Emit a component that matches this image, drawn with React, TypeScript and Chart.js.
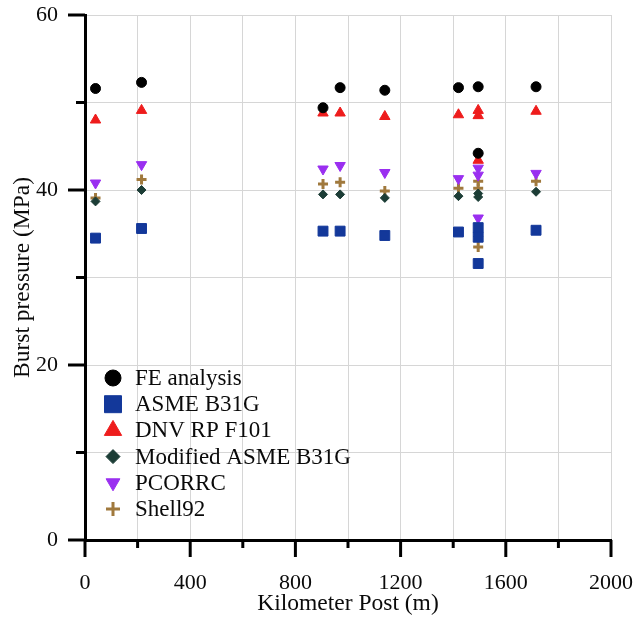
import React, { useEffect, useRef } from 'react';
import { Chart, registerables } from 'chart.js';
import { drawPoint } from 'chart.js/helpers';

Chart.register(...registerables);

// Kilometer post (m) and burst pressure (MPa) per method
const feX = [40, 215, 905, 970, 1140, 1420, 1495, 1495, 1715];
const feY = [51.6, 52.3, 49.4, 51.7, 51.4, 51.7, 51.8, 44.2, 51.8];

const asmeX = [40, 215, 905, 970, 1140, 1420, 1495, 1495, 1495, 1715];
const asmeY = [34.5, 35.6, 35.3, 35.3, 34.8, 35.2, 35.7, 34.6, 31.6, 35.4];

const dnvX = [40, 215, 905, 970, 1140, 1420, 1495, 1495, 1495, 1715];
const dnvY = [48.0, 49.1, 48.8, 48.8, 48.4, 48.6, 49.1, 48.5, 43.4, 49.0];

const modX = [40, 215, 905, 970, 1140, 1420, 1495, 1495, 1495, 1715];
const modY = [38.7, 40.0, 39.5, 39.5, 39.1, 39.3, 39.6, 39.2, 34.7, 39.8];

const pcX = [40, 215, 905, 970, 1140, 1420, 1495, 1495, 1495, 1715];
const pcY = [40.8, 42.9, 42.4, 42.8, 42.0, 41.3, 42.5, 41.7, 36.8, 41.9];

const shX = [40, 215, 905, 970, 1140, 1420, 1495, 1495, 1495, 1715];
const shY = [39.1, 41.2, 40.7, 40.9, 39.9, 40.2, 41.0, 40.2, 33.5, 41.0];

const seriesNames = ['FE analysis', 'ASME B31G', 'DNV RP F101', 'Modified ASME B31G', 'PCORRC', 'Shell92'];

const xTicksMajor = [0, 400, 800, 1200, 1600, 2000];
const yTicksMajor = [0, 20, 40, 60];

const FONT = "'Liberation Serif', 'Times New Roman', serif";

const zip = (xs: number[], ys: number[]) => xs.map((x, i) => ({ x, y: ys[i] }));

const styles = [
  { color: '#000000', pointStyle: 'circle', radius: 5, rotation: 0, lr: 8, bw: 1 },
  { color: '#13389a', pointStyle: 'rect', radius: 7, rotation: 0, lr: 12, bw: 1 },
  { color: '#ee1c1c', pointStyle: 'triangle', radius: 6, rotation: 0, lr: 10, bw: 1 },
  { color: '#1c3d36', pointStyle: 'rectRot', radius: 4.5, rotation: 0, lr: 7, bw: 1 },
  { color: '#9a2ff0', pointStyle: 'triangle', radius: 6, rotation: 180, lr: 8, bw: 1 },
  { color: '#a0793d', pointStyle: 'cross', radius: 5, rotation: 0, lr: 7, bw: 3 },
];

const tickPlugin = {
  id: 'axisTicks',
  afterDraw(chart: any) {
    const { ctx, chartArea, scales } = chart;
    ctx.save();
    ctx.strokeStyle = '#000';
    ctx.lineWidth = 3;
    for (let v = 0; v <= 2000; v += 200) {
      const px = scales.x.getPixelForValue(v);
      const len = xTicksMajor.includes(v) ? 17 : 8;
      ctx.beginPath();
      ctx.moveTo(px, chartArea.bottom);
      ctx.lineTo(px, chartArea.bottom + len);
      ctx.stroke();
    }
    for (let v = 0; v <= 60; v += 10) {
      const py = scales.y.getPixelForValue(v);
      const len = yTicksMajor.includes(v) ? 17 : 9;
      ctx.beginPath();
      ctx.moveTo(chartArea.left, py);
      ctx.lineTo(chartArea.left - len, py);
      ctx.stroke();
    }
    ctx.restore();
  },
};

const legendPlugin = {
  id: 'insideLegend',
  afterDraw(chart: any) {
    const { ctx, chartArea } = chart;
    ctx.save();
    const mx = chartArea.left + 28;
    const tx = chartArea.left + 50;
    const y0 = chartArea.top + 363;
    const dy = 26.2;
    ctx.font = `23px ${FONT}`;
    ctx.textBaseline = 'middle';
    ctx.textAlign = 'left';
    seriesNames.forEach((name, i) => {
      const s = styles[i];
      const y = y0 + i * dy;
      ctx.fillStyle = s.color;
      ctx.strokeStyle = s.color;
      ctx.lineWidth = s.bw;
      drawPoint(ctx, { pointStyle: s.pointStyle as any, radius: s.lr, rotation: s.rotation, borderWidth: s.bw }, mx, y);
      ctx.fillStyle = '#0a0a0a';
      ctx.fillText(name, tx, y + 1);
    });
    ctx.restore();
  },
};

export default function App() {
  const ref = useRef<HTMLCanvasElement | null>(null);

  useEffect(() => {
    document.body.style.margin = '0';
    if (!ref.current) return;
    const data = [zip(feX, feY), zip(asmeX, asmeY), zip(dnvX, dnvY), zip(modX, modY), zip(pcX, pcY), zip(shX, shY)];
    const chart = new Chart(ref.current, {
      type: 'scatter',
      data: {
        datasets: seriesNames.map((name, i) => ({
          label: name,
          data: data[i],
          pointStyle: styles[i].pointStyle as any,
          pointRadius: styles[i].radius,
          pointRotation: styles[i].rotation,
          backgroundColor: styles[i].color,
          borderColor: styles[i].color,
          pointBorderWidth: styles[i].bw,
        })),
      },
      options: {
        animation: false,
        responsive: false,
        layout: { padding: { top: 15, right: 25, left: 0, bottom: 0 } },
        plugins: { legend: { display: false }, tooltip: { enabled: false } },
        scales: {
          x: {
            type: 'linear',
            min: 0,
            max: 2000,
            afterFit: (s: any) => {
              s.height = 82;
              s.paddingLeft = 0;
              s.paddingRight = 0;
              s.paddingTop = 0;
              s.paddingBottom = 0;
            },
            ticks: {
              stepSize: 200,
              padding: 30,
              color: '#0a0a0a',
              font: { family: FONT, size: 22 },
              maxRotation: 0,
              callback: (v: any) => (xTicksMajor.includes(Number(v)) ? String(v) : ''),
            },
            grid: { color: '#d6d6d6', lineWidth: 1, drawTicks: false },
            border: { display: true, color: '#000', width: 3 },
            title: {
              display: true,
              text: 'Kilometer Post (m)',
              color: '#0a0a0a',
              font: { family: FONT, size: 23.5 },
              padding: { top: 0, bottom: 4 },
            },
          },
          y: {
            type: 'linear',
            min: 0,
            max: 60,
            afterFit: (s: any) => {
              s.width = 85;
              s.paddingLeft = 0;
              s.paddingRight = 0;
              s.paddingTop = 0;
              s.paddingBottom = 0;
            },
            ticks: {
              stepSize: 10,
              padding: 27,
              color: '#0a0a0a',
              font: { family: FONT, size: 22 },
              callback: (v: any) => (yTicksMajor.includes(Number(v)) ? String(v) : ''),
            },
            grid: { color: '#d6d6d6', lineWidth: 1, drawTicks: false },
            border: { display: true, color: '#000', width: 3 },
            title: {
              display: true,
              text: 'Burst pressure (MPa)',
              color: '#0a0a0a',
              font: { family: FONT, size: 23.5 },
              padding: { top: 9, bottom: 0 },
            },
          },
        },
      },
      plugins: [tickPlugin, legendPlugin],
    });
    return () => chart.destroy();
  }, []);

  return <canvas ref={ref} width={636} height={622} style={{ display: 'block' }} />;
}
